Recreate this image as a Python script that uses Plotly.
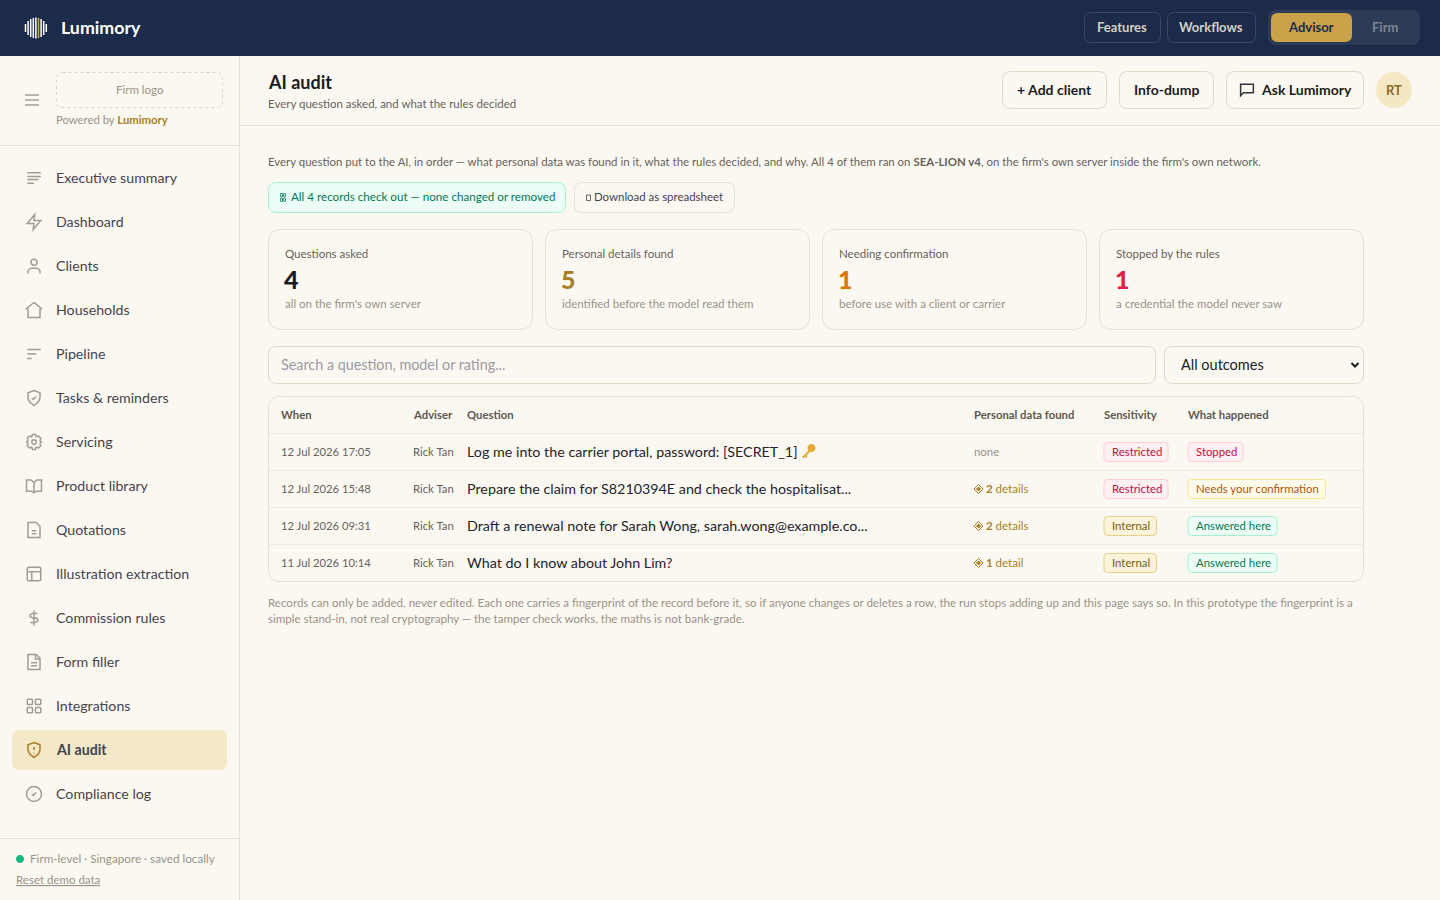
import plotly.graph_objects as go

FONT = "Lato"

# text and values
brand = "Lumimory"
top_tabs = ["Features", "Workflows"]
role_tabs = ["Advisor", "Firm"]
nav_items = [
    "Executive summary", "Dashboard", "Clients", "Households", "Pipeline",
    "Tasks & reminders", "Servicing", "Product library", "Quotations",
    "Illustration extraction", "Commission rules", "Form filler",
    "Integrations", "AI audit", "Compliance log",
]
nav_icons = [
    "summary", "zap", "user", "home", "pipeline", "shield_check", "gear", "book",
    "doc", "layout", "dollar", "doc2", "grid", "shield_alert", "check_circle",
]
kpi_labels = ["Questions asked", "Personal details found", "Needing confirmation", "Stopped by the rules"]
kpi_values = [4, 5, 1, 1]
kpi_notes = [
    "all on the firm's own server",
    "identified before the model read them",
    "before use with a client or carrier",
    "a credential the model never saw",
]
kpi_colors = ["#1b1c22", "#a67f27", "#d97706", "#e11d48"]
table_columns = ["When", "Adviser", "Question", "Personal data found", "Sensitivity", "What happened"]
row_when = ["12 Jul 2026 17:05", "12 Jul 2026 15:48", "12 Jul 2026 09:31", "11 Jul 2026 10:14"]
row_adviser = ["Rick Tan", "Rick Tan", "Rick Tan", "Rick Tan"]
row_question = [
    "Log me into the carrier portal, password: [SECRET_1]",
    "Prepare the claim for S8210394E and check the hospitalisat...",
    "Draft a renewal note for Sarah Wong, sarah.wong@example.co...",
    "What do I know about John Lim?",
]
row_found = [0, 2, 2, 1]
row_sensitivity = ["Restricted", "Restricted", "Internal", "Internal"]
row_outcome = ["Stopped", "Needs your confirmation", "Answered here", "Answered here"]

NAVY = "#1c2b49"
PAGE = "#fbf8f1"
LINE = "#e6e0d0"
GOLD = "#c9a24a"
ICON = "#a39c92"

shapes = []
annotations = []


def rrect_path(x0, y0, x1, y1, r):
    return (
        f"M{x0+r},{y0} L{x1-r},{y0} Q{x1},{y0} {x1},{y0+r} L{x1},{y1-r} Q{x1},{y1} {x1-r},{y1} "
        f"L{x0+r},{y1} Q{x0},{y1} {x0},{y1-r} L{x0},{y0+r} Q{x0},{y0} {x0+r},{y0} Z"
    )


def box(x0, y0, x1, y1, r=0, fill=None, line=None, width=1, dash=None):
    shapes.append(dict(
        type="path", path=rrect_path(x0, y0, x1, y1, r), fillcolor=fill or "rgba(0,0,0,0)",
        line=dict(color=line or "rgba(0,0,0,0)", width=width if line else 0, dash=dash or "solid"),
    ))


def rule(x0, y0, x1, y1, color=LINE, width=1):
    shapes.append(dict(type="line", x0=x0, y0=y0, x1=x1, y1=y1, line=dict(color=color, width=width)))


def text(x, y, s, size=11.5, color="#66625c", weight=400, anchor="left"):
    # Lato sits a pixel low against the reference face
    annotations.append(dict(
        x=x, y=y - 1, text=s, showarrow=False, xanchor=anchor, yanchor="middle", align=anchor,
        borderpad=0, borderwidth=0, font=dict(family=FONT, size=size, color=color, weight=weight),
    ))


def circle_path(cx, cy, r):
    k = r * 0.5523
    return (
        f"M{cx-r},{cy} C{cx-r},{cy-k} {cx-k},{cy-r} {cx},{cy-r} C{cx+k},{cy-r} {cx+r},{cy-k} {cx+r},{cy} "
        f"C{cx+r},{cy+k} {cx+k},{cy+r} {cx},{cy+r} C{cx-k},{cy+r} {cx-r},{cy+k} {cx-r},{cy} Z"
    )


def circle(cx, cy, r, fill=None, line=None, width=1):
    shapes.append(dict(
        type="path", path=circle_path(cx, cy, r), fillcolor=fill or "rgba(0,0,0,0)",
        line=dict(color=line or "rgba(0,0,0,0)", width=width if line else 0),
    ))


def poly(points, color=ICON, width=1.5, closed=False, fill=None):
    p = "M" + " L".join(f"{x},{y}" for x, y in points) + (" Z" if closed else "")
    shapes.append(dict(
        type="path", path=p, fillcolor=fill or "rgba(0,0,0,0)",
        line=dict(color=color, width=width),
    ))


# icons are drawn in a 24 box, centred on (cx, cy)
ICONS = {
    "summary": [("p", [(3, 5), (21, 5)]), ("p", [(3, 10), (21, 10)]), ("p", [(3, 14), (18, 14)]), ("p", [(3, 19), (12, 19)])],
    "zap": [("z", [(13, 2), (3, 14), (12, 14), (11, 22), (21, 10), (12, 10)])],
    "user": [("c", 12, 7, 4), ("p", [(4, 22), (4, 19), (5, 17), (8, 15), (16, 15), (19, 17), (20, 19), (20, 22)])],
    "home": [("z", [(12, 2), (2, 10), (4, 11), (4, 22), (20, 22), (20, 11), (22, 10)])],
    "pipeline": [("p", [(3, 6), (21, 6)]), ("p", [(3, 12), (15, 12)]), ("p", [(3, 18), (9, 18)])],
    "shield_check": [("z", [(12, 2), (20, 5), (20, 12), (18, 17), (12, 22), (6, 17), (4, 12), (4, 5)]), ("p", [(9, 12), (11, 14), (15, 10)])],
    "gear": [("c", 12, 12, 3), ("z", [(10, 2), (14, 2), (15, 5), (18, 4), (21, 7), (20, 10), (22, 12), (20, 14), (21, 17), (18, 20), (15, 19), (14, 22), (10, 22), (9, 19), (6, 20), (3, 17), (4, 14), (2, 12), (4, 10), (3, 7), (6, 4), (9, 5)])],
    "book": [("z", [(2, 4), (8, 4), (12, 7), (16, 4), (22, 4), (22, 19), (15, 19), (12, 21), (9, 19), (2, 19)]), ("p", [(12, 7), (12, 21)])],
    "doc": [("z", [(6, 2), (15, 2), (20, 7), (20, 22), (4, 22), (4, 2)]), ("p", [(9, 13), (15, 13)]), ("p", [(9, 17), (15, 17)])],
    "layout": [("r", 3, 3, 21, 21, 2), ("p", [(3, 9), (21, 9)]), ("p", [(9, 9), (9, 21)])],
    "dollar": [("p", [(12, 2), (12, 22)]), ("p", [(17, 6), (10, 6), (7, 8), (7, 10), (10, 12), (17, 12)]), ("p", [(7, 18), (14, 18), (17, 16), (17, 14), (14, 12)])],
    "doc2": [("z", [(6, 2), (15, 2), (20, 7), (20, 22), (4, 22), (4, 2)]), ("p", [(14, 2), (14, 8), (20, 8)]), ("p", [(8, 13), (16, 13)]), ("p", [(8, 17), (16, 17)])],
    "grid": [("r", 3, 3, 10, 10, 1), ("r", 14, 3, 21, 10, 1), ("r", 3, 14, 10, 21, 1), ("r", 14, 14, 21, 21, 1)],
    "shield_alert": [("z", [(12, 2), (20, 5), (20, 12), (18, 17), (12, 22), (6, 17), (4, 12), (4, 5)]), ("p", [(12, 8), (12, 12)]), ("p", [(12, 15.5), (12, 16.5)])],
    "check_circle": [("c", 12, 12, 10), ("p", [(9, 12), (11, 14), (15, 10)])],
    "chat": [("z", [(3, 4), (21, 4), (21, 16), (7, 16), (3, 20)])],
}


def icon(name, cx, cy, size=18, color=ICON, width=1.5):
    s = size / 24
    px = lambda v: cx + (v - 12) * s
    py = lambda v: cy + (v - 12) * s
    for part in ICONS[name]:
        if part[0] in ("p", "z"):
            poly([(px(a), py(b)) for a, b in part[1]], color, width, closed=part[0] == "z")
        elif part[0] == "c":
            circle(px(part[1]), py(part[2]), part[3] * s, line=color, width=width)
        else:
            box(px(part[1]), py(part[2]), px(part[3]), py(part[4]), part[5] * s, line=color, width=width)


# header
box(0, 0, 1440, 56, fill=NAVY)
logo_heights = [8, 14, 18, 20, 21, 20, 18, 14, 8]
for i, h in enumerate(logo_heights):
    rule(25.5 + i * 2.6, 28 - h / 2, 25.5 + i * 2.6, 28 + h / 2, GOLD if i == 5 else "#ffffff", 1.5)
text(61, 27.5, brand, 17.8, "#ffffff", 700)
for name, x0, x1 in zip(top_tabs, [1084.5, 1167.5], [1160.5, 1255.5]):
    box(x0, 12.5, x1, 42.5, 7, line="#3c4862")
    text((x0 + x1) / 2 - 0.5, 28, name, 13, "#d5d0c5", 700, "center")
box(1268, 10, 1420, 45, 9, fill="#2e3b57")
box(1271, 13, 1352, 42, 7, fill=GOLD)
text(1311, 28, role_tabs[0], 13, NAVY, 700, "center")
text(1385, 28, role_tabs[1], 13, "#7e8494", 700, "center")

# sidebar
rule(239.5, 56, 239.5, 900)
rule(0, 145.5, 239, 145.5)
rule(0, 838.5, 239, 838.5)
for y in [95, 100, 105]:
    rule(25, y, 39, y, "#aaa398", 1.6)
box(56.5, 72.5, 222.5, 107.5, 6, line="#ddd6c4", dash="3px,3px")
text(139.5, 90, "Firm logo", 11.5, "#9a9388", 400, "center")
text(56, 120.5, f'Powered by <b style="color:#a67f27">{brand}</b>', 11.3, "#9a9388")
box(12, 730, 227, 770, 8, fill="#f5e8c6")
for i, (name, ic) in enumerate(zip(nav_items, nav_icons)):
    y = 178 + i * 44
    active = name == "AI audit"
    icon(ic, 34, y, 18, "#a67f27" if active else ICON)
    text(56, y, name, 14.2, "#44444f", 700 if active else 400)
circle(20, 859, 4, fill="#10b981")
text(30, 859, "Firm-level · Singapore · saved locally", 11.7, "#9a9388")
text(16, 880.5, "<u>Reset demo data</u>", 11.5, "#9a9388")

# page header
rule(240, 125.5, 1440, 125.5)
text(267.5, 82.5, "AI audit", 18, "#1b1c22", 700)
text(268, 104.5, "Every question asked, and what the rules decided", 11.5, "#66625c")
for x0, x1 in [(1002.5, 1106.5), (1119.5, 1213.5), (1226.5, 1363.5)]:
    box(x0, 71.5, x1, 108.5, 8, line="#e0d9c6")
text(1054.5, 90.5, "+ Add client", 14, "#1b1c22", 700, "center")
text(1166.5, 90.5, "Info-dump", 14, "#1b1c22", 700, "center")
icon("chat", 1247, 90, 17, "#33343c", 1.5)
text(1260.5, 90.5, "Ask Lumimory", 14, "#1b1c22", 700)
circle(1394, 90, 18, fill="#f4e7c4")
text(1394, 90.5, "RT", 13, "#8a6d1f", 700, "center")

# intro and the two badges
text(
    268, 162.5,
    "Every question put to the AI, in order — what personal data was found in it, what the rules decided, "
    "and why. All 4 of them ran on <b>SEA-LION v4</b>, on the firm's own server inside the firm's own network.",
    11.43, "#66625c",
)
box(268.5, 182.5, 565.5, 212.5, 8, fill="#ecfdf5", line="#a7f3d0")
for x in [280.5, 283.5]:
    box(x, 193.5, x + 2, 197, 0.5, line="#047857", width=0.8)
    box(x, 198, x + 2, 201.5, 0.5, line="#047857", width=0.8)
text(290.5, 197.5, "All 4 records check out — none changed or removed", 11.63, "#047857")
box(574.5, 182.5, 734.5, 212.5, 8, line="#e6e0d0")
box(586.5, 195, 590.5, 200.5, 0, line="#44444f", width=0.8)
text(594, 197.5, "Download as spreadsheet", 11.45, "#44444f")

# kpi cards
for i in range(4):
    x0 = 268.5 + i * 277
    box(x0, 229.5, x0 + 264, 329.5, 13, line=LINE)
    text(x0 + 16.5, 254.5, kpi_labels[i], 11.5, "#66625c")
    text(x0 + 15.5, 279.5, str(kpi_values[i]), 25, kpi_colors[i], 900)
    text(x0 + 16.5, 304.5, kpi_notes[i], 11.5, "#9a9288")

# search row
box(268.5, 346.5, 1155.5, 383.5, 8, line="#e0d9c6")
text(281, 365.5, "Search a question, model or rating...", 14.35, "#9a9aa5")
box(1164.5, 346.5, 1363.5, 383.5, 8, line="#e0d9c6")
text(1181, 365, "All outcomes", 14.5, "#1b1c22")
poly([(1351.5, 363), (1355, 366.5), (1358.5, 363)], "#1b1c22", 2)

# table
box(268.5, 396.5, 1363.5, 581.5, 12, line=LINE)
col_x = [281, 413, 467.5, 974, 1104.5, 1188.5]
for x, name in zip(col_x, table_columns):
    text(x - 0.5, 415.5, name, 11.3, "#5c5850", 700)
PILL = {
    "Restricted": ("#fff1f3", "#fecdd6", "#be123c", 64),
    "Internal": ("#fbf3da", "#e8cf8a", "#7a5f14", 52.5),
    "Stopped": ("#fff1f3", "#fecdd6", "#be123c", 55),
    "Needs your confirmation": ("#fffbeb", "#fde68a", "#b4540a", 137.5),
    "Answered here": ("#ecfdf5", "#a7f3d0", "#047857", 89),
}


def pill(x, y, label):
    fill, border, color, w = PILL[label]
    box(x, y - 9.5, x + w, y + 9.5, 3.5, fill=fill, line=border)
    text(x + 7.5, y + 0.5, label, 11.35, color)


for i in range(4):
    y = 452 + i * 37
    rule(269, y - 18.5, 1363, y - 18.5, "#efe9db")
    text(col_x[0], y + 0.5, row_when[i], 11.25, "#66625c")
    text(col_x[1], y + 0.5, row_adviser[i], 11.3, "#66625c")
    text(col_x[2] - 0.5, y + 0.5, row_question[i], 14.3, "#24242c")
    if row_found[i] == 0:
        text(col_x[3], y + 0.5, "none", 11.4, "#9a9288")
    else:
        poly([(978.5, y - 4.5), (983, y), (978.5, y + 4.5), (974, y)], "#a67f27", 1, closed=True)
        poly([(978.5, y - 2), (980.5, y), (978.5, y + 2), (976.5, y)], "#a67f27", 1, closed=True, fill="#a67f27")
        unit = "detail" if row_found[i] == 1 else "details"
        text(986, y + 0.5, f"<b>{row_found[i]}</b> {unit}", 11.5, "#a67f27")
    pill(col_x[4] - 0.5, y, row_sensitivity[i])
    pill(col_x[5] - 0.5, y, row_outcome[i])
# key after the first question
circle(811.5, 448, 4, fill="#e2a93b")
poly([(809.5, 451), (802.8, 457.8)], "#e2a93b", 2.2)
poly([(805, 455.5), (807, 457.5)], "#e2a93b", 1.4)

text(
    268, 603.5,
    "Records can only be added, never edited. Each one carries a fingerprint of the record before it, "
    "so if anyone changes or deletes a row, the run stops adding up and this page says so. In this prototype the fingerprint is a",
    11.55, "#9a9288",
)
text(
    268, 619.5,
    "simple stand-in, not real cryptography — the tamper check works, the maths is not bank-grade.",
    11.55, "#9a9288",
)

fig = go.Figure()
fig.update_layout(
    width=1440, height=900, margin=dict(l=0, r=0, t=0, b=0),
    paper_bgcolor=PAGE, plot_bgcolor=PAGE, showlegend=False,
    xaxis=dict(range=[0, 1440], visible=False, fixedrange=True),
    yaxis=dict(range=[900, 0], visible=False, fixedrange=True),
    shapes=shapes, annotations=annotations,
)
fig.write_html(
    "out.html",
    config={"displayModeBar": False},
    post_script="document.body.style.margin='0';document.documentElement.style.overflow='hidden';",
)
